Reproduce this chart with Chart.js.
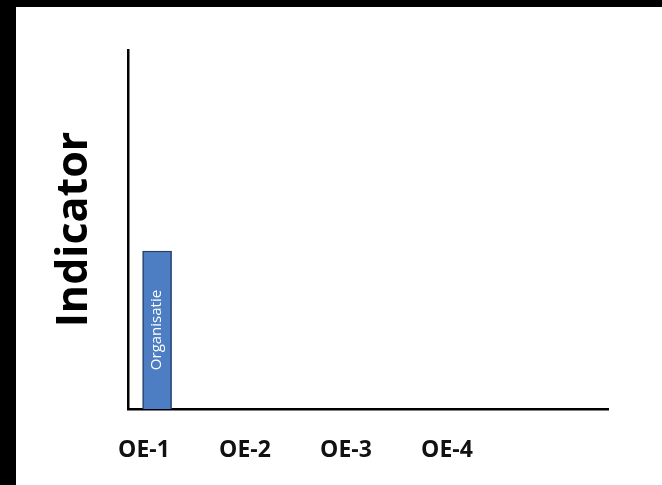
<!DOCTYPE html>
<html>
<head>
<meta charset="utf-8">
<script src="https://cdn.jsdelivr.net/npm/chart.js@4"></script>
<style>
  html, body { margin: 0; padding: 0; background: #000; }
  #wrap { position: relative; width: 662px; height: 485px; overflow: hidden; }
  #paper { position: absolute; left: 16px; top: 7px; width: 646px; height: 478px; background: #fff; }
  #chart { position: absolute; left: 0; top: 0; }
</style>
</head>
<body>
<div id="wrap">
  <div id="paper"></div>
  <canvas id="chart" width="662" height="485"></canvas>
</div>
<script>
const categories = ['OE-1', 'OE-2', 'OE-3', 'OE-4'];
const seriesName = 'Organisatie';
const barPositions = [0.13];   // position along the OE axis (0 = OE-1)
const barValues = [44];
const yTitle = 'Indicator';

const points = barPositions.map((x, i) => ({ x: x, y: barValues[i] }));

// writes the series name rotated inside each bar
const barLabel = {
  id: 'barLabel',
  afterDatasetsDraw(chart) {
    const ctx = chart.ctx;
    const meta = chart.getDatasetMeta(0);
    meta.data.forEach(bar => {
      ctx.save();
      ctx.translate(bar.x, (bar.y + bar.base) / 2);
      ctx.rotate(-Math.PI / 2);
      ctx.fillStyle = '#fff';
      ctx.font = '15px "Open Sans"';
      ctx.textAlign = 'center';
      ctx.textBaseline = 'middle';
      ctx.fillText(chart.data.datasets[0].label, 0, 0);
      ctx.restore();
    });
  }
};

new Chart(document.getElementById('chart'), {
  type: 'bar',
  data: {
    datasets: [{
      label: seriesName,
      data: points,
      backgroundColor: '#4d7ec3',
      borderColor: '#223f6c',
      borderWidth: 1.5,
      barThickness: 29
    }]
  },
  options: {
    responsive: false,
    animation: false,
    layout: { padding: { top: 50, right: 54, left: 0, bottom: 0 } },
    plugins: { legend: { display: false }, tooltip: { enabled: false } },
    scales: {
      x: {
        type: 'linear',
        offset: false,
        min: -0.158,
        max: 4.594,
        grid: { display: false, drawTicks: false },
        border: { display: true, color: '#000', width: 2.5 },
        afterBuildTicks: s => { s.ticks = categories.map((c, i) => ({ value: i })); },
        afterFit: s => { s.height = 76; },
        ticks: {
          padding: 28,
          color: '#111',
          font: { family: '"Open Sans"', size: 23, weight: 'bold' },
          callback: v => categories[v]
        }
      },
      y: {
        min: 0,
        max: 100,
        grid: { display: false, drawTicks: false },
        border: { display: true, color: '#000', width: 2.5 },
        ticks: { display: false },
        afterFit: s => { s.width = 128; },
        title: {
          display: true,
          text: yTitle,
          color: '#000',
          padding: { top: 49, bottom: 0 },
          font: { family: '"Open Sans"', size: 43, weight: 'bold' }
        }
      }
    }
  },
  plugins: [barLabel]
});
</script>
</body>
</html>
